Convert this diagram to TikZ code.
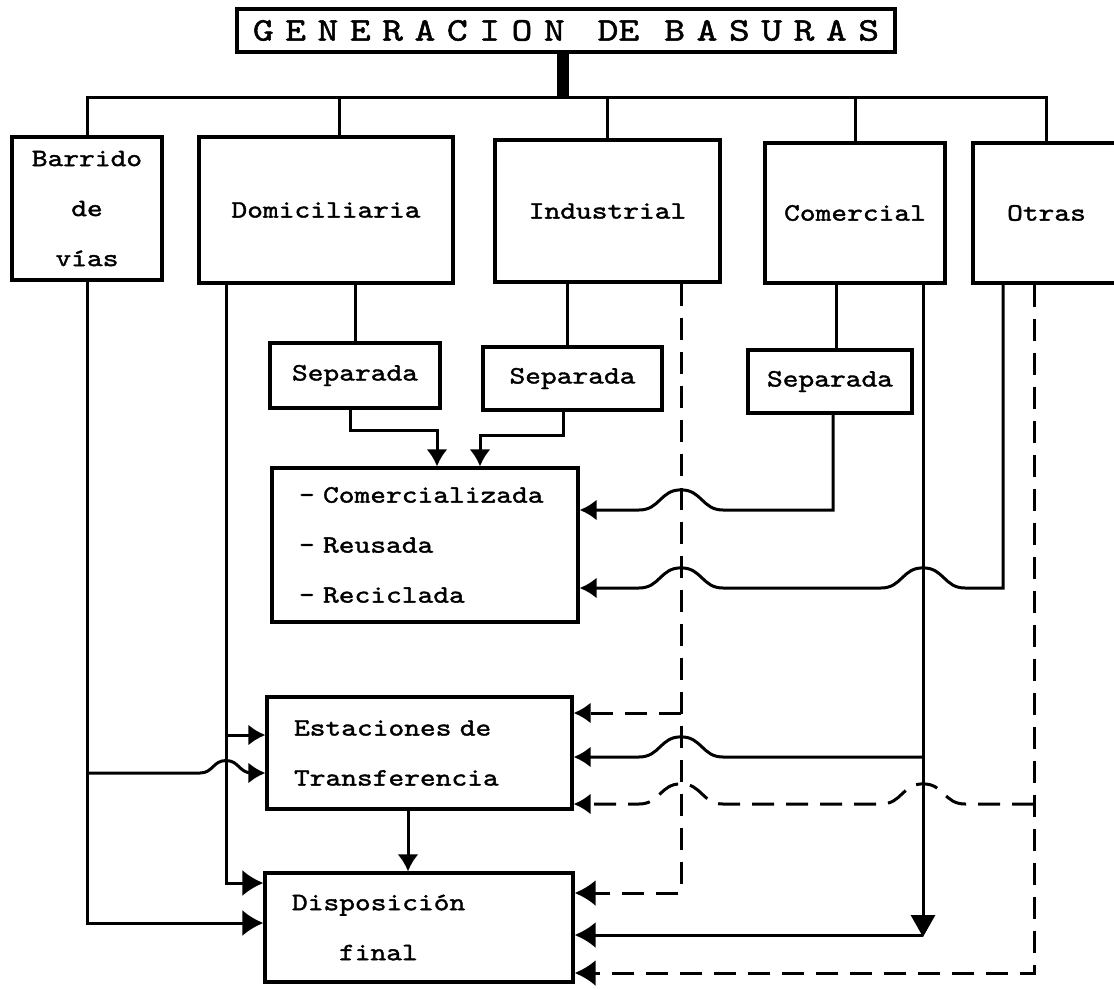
\documentclass[tikz,border=0pt]{standalone}
\usepackage{fontspec}
\newfontfamily\tw{lmmono10-regular}[Extension=.otf, FakeStretch=1.2, FakeBold=1.5]
\usetikzlibrary{arrows.meta,positioning}
\tikzset{
    box/.style={draw, rectangle, line width=3.2pt, inner sep=0pt, align=center,
        font=\tw\fontsize{25pt}{50pt}\selectfont},
    list box/.style={box, align=left, inner xsep=27pt},
    head box/.style={box, font=\tw\fontsize{33pt}{34pt}\selectfont},
    link/.style={line width=3pt},
    arr/.style={link, -{Latex[length=17pt,width=21pt]}},
    big arr/.style={link, -{Latex[length=21pt,width=26pt]}},
    dashes/.style={dash pattern=on 22pt off 12pt}
}
\newcommand{\hop}[3]{-- ({#1+(#3)},#2) .. controls ({#1+0.5*(#3)},#2) and ({#1+0.5*(#3)},{#2-0.48*abs(#3)}) .. (#1,{#2-0.48*abs(#3)}) .. controls ({#1-0.5*(#3)},{#2-0.48*abs(#3)}) and ({#1-0.5*(#3)},#2) .. ({#1-(#3)},#2)}
\newcommand{\spread}[1]{{\addfontfeature{LetterSpace=35}#1}}

\begin{document}
\begin{tikzpicture}[x=1pt, y=-1pt]
    \useasboundingbox (0,0) rectangle (1114,989);
    \node[head box, minimum width=658pt, minimum height=43pt] (title) at (566,30.5)
        {\spread{GENERACION}\hspace{33pt}DE\hspace{25pt}\spread{BASURAS}};

    \node[box, minimum width=150pt, minimum height=143pt] (barrido) at (87,208.5) {Barrido\\de\\vías};
    \node[box, minimum width=254pt, minimum height=146pt] (domic) at (326,210) {Domiciliaria};
    \node[box, minimum width=225pt, minimum height=142pt] (indus) at (607.5,211) {Industrial};
    \node[box, minimum width=180pt, minimum height=140pt] (comer) at (855,213) {Comercial};
    \node[box, minimum width=147pt, minimum height=140pt] (otras) at (1046.5,213) {Otras};

    \node[box, minimum width=170pt, minimum height=65pt] (sepD) at (355,375.5) {Separada};
    \node[box, minimum width=179pt, minimum height=63pt] (sepI) at (572.5,378.5) {Separada};
    \node[box, minimum width=164pt, minimum height=63pt] (sepC) at (830,381.5) {Separada};

    \node[list box, minimum width=306pt, minimum height=154pt, text width=252pt] (reuse) at (425,545)
        {– Comercializada\\– Reusada\\– Reciclada};
    \node[list box, minimum width=305pt, minimum height=112pt, text width=251pt] (estac) at (419.5,753)
        {Estaciones de\\Transferencia};
    \node[list box, minimum width=308pt, minimum height=109pt, text width=254pt] (dispo) at (419,927.5)
        {Disposición\\\hspace*{47pt}final};

    \coordinate (bus) at (563,97);
    \draw[line width=12pt] (title.south -| bus) -- (bus);
    \draw[link] (barrido.north) |- (otras.north |- bus) -- (otras.north);
    \foreach \n in {indus,comer}
        \draw[link] (\n.north) -- (\n.north |- bus);
    \draw[link] (339,0 |- domic.north) -- (339,0 |- bus);

    \draw[link] (sepD.north) -- (sepD.north |- domic.south);
    \draw[link] (567,0 |- sepI.north) -- (567,0 |- indus.south);
    \draw[link] (836,0 |- sepC.north) -- (836,0 |- comer.south);

    \draw[arr] (350,0 |- sepD.south) |- (437,430) -- (437,0 |- reuse.north);
    \draw[arr] (563,0 |- sepI.south) |- (480,435) -- (480,0 |- reuse.north);
    \draw[arr] (833,0 |- sepC.south) -- (833,510) \hop{681}{510}{42} -- (reuse.east |- 0,510);
    \draw[arr] (1003,0 |- otras.south) -- (1003,588) \hop{923}{588}{42} \hop{681}{588}{42} -- (reuse.east |- 0,588);

    \draw[big arr] (226,0 |- domic.south) |- (dispo.west |- 0,883);
    \draw[arr] (226,735) -- (estac.west |- 0,735);
    \draw[big arr] (barrido.south) |- (dispo.west |- 0,923);
    \draw[arr] (87,773) \hop{226}{773}{-26} -- (estac.west |- 0,773);
    \draw[arr] (408,0 |- estac.south) -- (408,0 |- dispo.north);

    \draw[big arr, dashes] (681,0 |- indus.south) -- (681,893) -- (dispo.east |- 0,893);
    \draw[arr, dashes] (681,713) -- (estac.east |- 0,713);

    \draw[link, -{Triangle[length=22pt,width=24pt]}] (923,0 |- comer.south) -- (923,937);
    \draw[big arr] (923,935) -- (dispo.east |- 0,935);
    \draw[arr] (923,757) \hop{681}{757}{42} -- (estac.east |- 0,757);

    \draw[big arr, dashes] (1034,0 |- otras.south) -- (1034,973) -- (dispo.east |- 0,973);
    \draw[arr, dashes] (1034,804) \hop{923}{804}{42} \hop{681}{804}{42} -- (estac.east |- 0,804);
\end{tikzpicture}
\end{document}
